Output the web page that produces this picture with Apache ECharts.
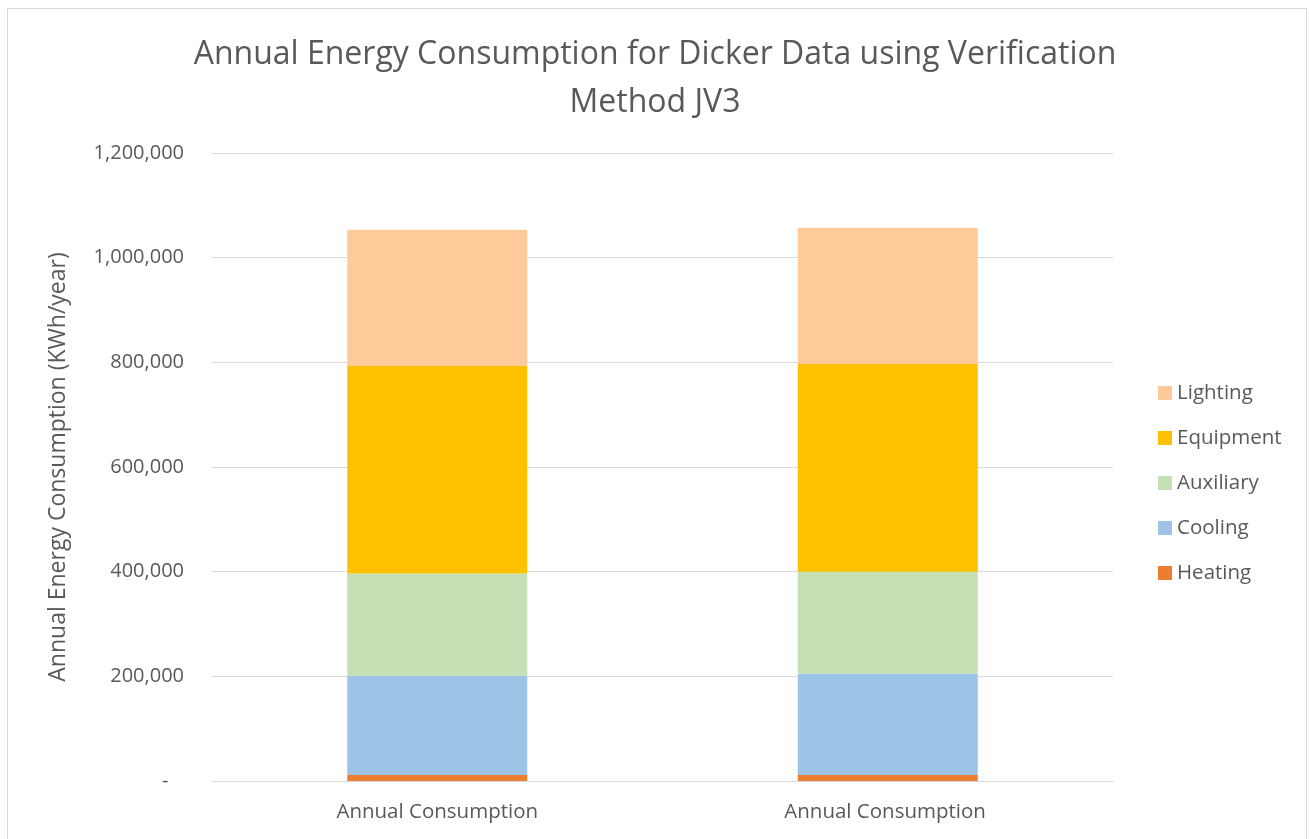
<!DOCTYPE html>
<html lang="en">
<head>
	<meta charset="UTF-8">
	<script src="https://cdn.jsdelivr.net/npm/echarts@6/dist/echarts.min.js"></script>
	<style>
		body{margin:0;background:#fff;}
		#frame{position:absolute;left:7px;top:8px;width:1300px;height:840px;border:1px solid #d9d9d9;box-sizing:border-box;}
		#chart{position:absolute;left:0;top:0;width:1310px;height:839px;}
	</style>
</head>
<body>
<div id="frame"></div>
<div id="chart"></div>
<script>
  var categories=['Annual Consumption','Annual Consumption '];
  var heating=[11500,11500];
  var cooling=[189500,193400];
  var auxiliary=[195600,194800];
  var equipment=[396400,397100];
  var lighting=[260500,260500];
  var legendData=['Lighting','Equipment','Auxiliary','Cooling','Heating'];

  var font='"Open Sans", sans-serif';
  var chart=echarts.init(document.getElementById('chart'));
  function bar(name,data,color){
    return {name:name,type:'bar',stack:'total',data:data,barWidth:180,
      itemStyle:{color:color},emphasis:{disabled:true}};
  }
  var option={
    animation:false,
    title:{
      text:'Annual Energy Consumption for Dicker Data using Verification\nMethod JV3',
      left:'center',
      top:26,
      textStyle:{color:'#595959',fontWeight:400,fontSize:32,lineHeight:48,fontFamily:font}
    },
    legend:{
      data:legendData,
      orient:'vertical',
      left:1153,
      top:377,
      itemWidth:14,
      itemHeight:14,
      itemGap:23,
      icon:'rect',
      textStyle:{color:'#595959',fontSize:20.5,lineHeight:22,fontFamily:font}
    },
    grid:{left:212,right:197,top:153,bottom:58},
    xAxis:{
      type:'category',
      data:categories,
      axisLine:{lineStyle:{color:'#d9d9d9',width:1}},
      axisTick:{show:false},
      axisLabel:{color:'#595959',fontSize:20.5,margin:21,fontFamily:font}
    },
    yAxis:{
      type:'value',
      min:0,max:1200000,interval:200000,
      name:'Annual Energy Consumption (KWh/year)',
      nameLocation:'middle',
      nameGap:142,
      nameTextStyle:{color:'#595959',fontSize:23,fontFamily:font},
      axisLine:{show:false},
      axisTick:{show:false},
      splitLine:{lineStyle:{color:'#d9d9d9',width:1}},
      axisLabel:{color:'#595959',fontSize:20,margin:28,fontFamily:font,
        formatter:function(v){return v===0?'-   ':v.toLocaleString('en-US');}}
    },
    series:[
      bar('Heating',heating,'#ED7D31'),
      bar('Cooling',cooling,'#9DC3E6'),
      bar('Auxiliary',auxiliary,'#C5E0B4'),
      bar('Equipment',equipment,'#FFC000'),
      bar('Lighting',lighting,'#FFCA99')
    ]
  };
  chart.setOption(option);
</script>
</body>
</html>
